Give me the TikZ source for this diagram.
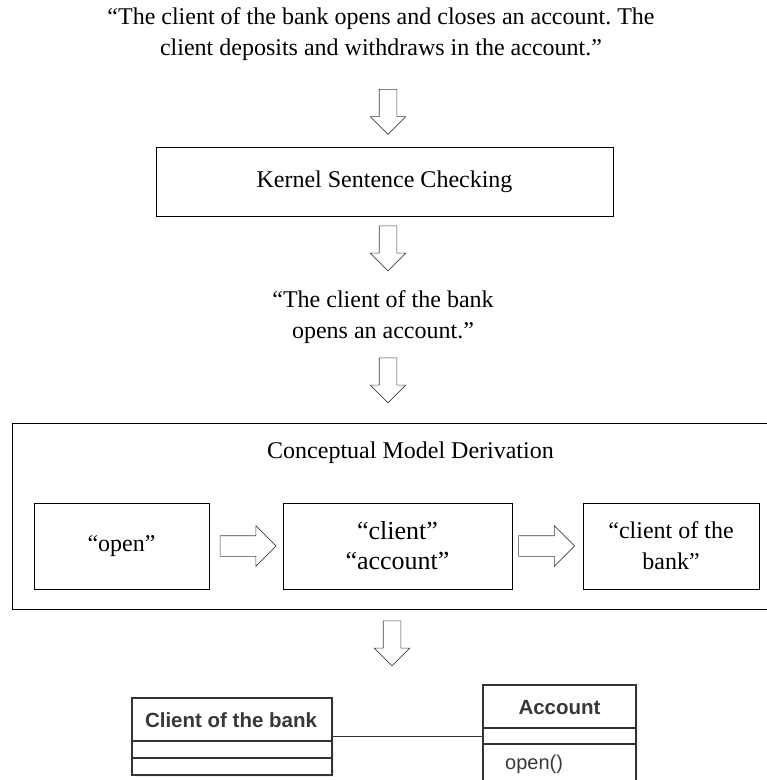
\documentclass[tikz,border=0pt]{standalone}
\usepackage{fontspec}
\setmainfont{Liberation Serif}
\setsansfont{Liberation Sans}
\usetikzlibrary{shapes.arrows,shadows}
\frenchspacing

\tikzset{
  plain/.style={inner sep=0pt, align=center, font=\fontsize{24}{31}\selectfont},
  stagebox/.style={draw, line width=0.9pt, inner sep=0pt, align=center, font=\fontsize{24}{31}\selectfont},
  downarrow/.style={draw=black!75, line width=0.6pt, single arrow, rotate=-90, inner xsep=0pt, inner ysep=8.5pt,
    minimum height=45, minimum width=35, single arrow head extend=9},
  rightarrow/.style={draw=black!75, line width=0.6pt, single arrow, inner xsep=0pt, inner ysep=10pt,
    minimum height=56, minimum width=40, single arrow head extend=10},
  umlbox/.style={draw=black!80, line width=1.2pt, inner sep=0pt, fill=white,
    drop shadow={opacity=0.12, shadow xshift=2pt, shadow yshift=-2pt}},
  umlline/.style={draw=black!80, line width=1.2pt},
  umltext/.style={inner sep=0pt, text=black!78, font=\sffamily\fontsize{20}{24}\selectfont}
}

\begin{document}
\begin{tikzpicture}[x=1pt, y=-1pt]
  \useasboundingbox (0,0) rectangle (767,780);
  \clip (0,0) rectangle (767,780);

  % input sentences
  \node[plain] (input) at (381,34.5) {“The client of the bank opens and closes an account. The\\client deposits and withdraws in the account.”};
  \node[downarrow] (toKernel) at (388,107.5) {};

  % kernel sentence step
  \node[stagebox, minimum width=457, minimum height=69] (kernel) at (384.5,181.5) {Kernel Sentence Checking};
  \node[downarrow] (fromKernel) at (388,244) {};
  \node[plain] (kernelout) at (383,317.5) {“The client of the bank\\opens an account.”};
  \node[downarrow] (toDerivation) at (388,376) {};

  % derivation step
  \node[stagebox, minimum width=763, minimum height=186] (derivation) at (393.5,516) {};
  \node[plain] (derivtitle) at (410.5,453) {Conceptual Model Derivation};
  \node[stagebox, minimum width=175, minimum height=86] (verbbox) at (121.5,546) {“open”};
  \node[rightarrow] (verbToNoun) at (243,546) {};
  \node[stagebox, minimum width=229, minimum height=86, font=\fontsize{26}{30}\selectfont] (nounbox) at (397.5,546) {“client”\\“account”};
  \node[rightarrow] (nounToOwner) at (541.5,546) {};
  \node[stagebox, minimum width=176, minimum height=86] (ownerbox) at (671,546) {“client of the\\bank”};
  \node[downarrow] (toClasses) at (392,639) {};

  % class diagram
  \node[umlbox, minimum width=200, minimum height=77] (client) at (232,736.5) {};
  \node[umltext, font=\sffamily\bfseries\fontsize{20.5}{24}\selectfont] (clientname) at (231,720) {Client of the bank};
  \draw[umlline] (client.west |- 0,741) -- (client.east |- 0,741);
  \draw[umlline] (client.west |- 0,758) -- (client.east |- 0,758);

  \node[umlbox, minimum width=153, minimum height=105] (account) at (559.5,737.5) {};
  \node[umltext, font=\sffamily\bfseries\fontsize{20.5}{24}\selectfont] (accountname) at (559.5,708) {Account};
  \draw[umlline] (account.west |- 0,728) -- (account.east |- 0,728);
  \draw[umlline] (account.west |- 0,744) -- (account.east |- 0,744);
  \node[umltext, anchor=west] (accountop) at (505,764) {open()};

  \draw[umlline, line width=1pt] (client.east) -- (client.east -| account.west);
\end{tikzpicture}
\end{document}
